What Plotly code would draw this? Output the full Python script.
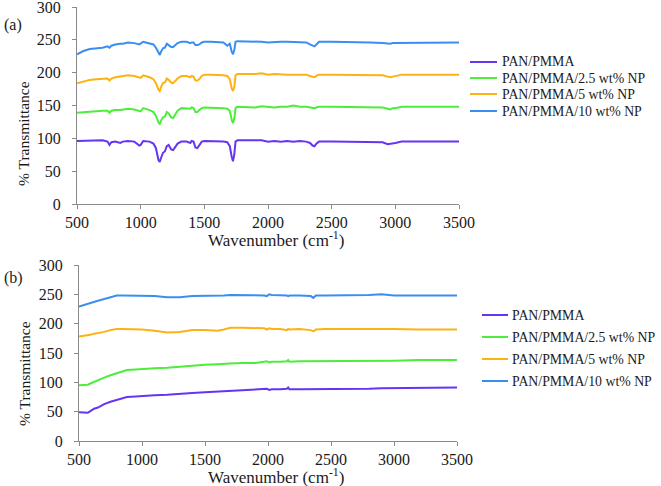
import plotly.graph_objects as go

# ---------------- Panel (a) data ----------------
wn_a = [500, 550, 600, 650, 700, 740, 755, 770, 800, 840,
        860, 900, 950, 990, 1000, 1020, 1040, 1070, 1100, 1120,
        1140, 1150, 1160, 1175, 1190, 1205, 1220, 1240, 1255, 1270,
        1290, 1320, 1360, 1390, 1400, 1415, 1430, 1445, 1460, 1480,
        1500, 1550, 1600, 1650, 1680, 1700, 1715, 1725, 1735, 1745,
        1760, 1800, 1850, 1900, 1950, 2000, 2050, 2100, 2150, 2200,
        2250, 2300, 2330, 2350, 2365, 2380, 2400, 2500, 2600, 2700,
        2800, 2900, 2940, 2960, 2980, 3000, 3050, 3100, 3200, 3300,
        3400, 3500]

a_pan_pmma = [96, 96, 97, 97, 97, 95, 90, 94, 95, 93,
              95, 96, 95, 89, 90, 96, 96, 95, 92, 85,
              67, 64, 70, 78, 80, 88, 90, 83, 82, 86,
              92, 95, 95, 93, 96, 95, 86, 85, 90, 95,
              96, 96, 96, 95, 94, 88, 72, 65, 75, 95,
              97, 97, 96, 96, 97, 95, 96, 95, 96, 95,
              96, 95, 93, 89, 88, 92, 95, 95, 95, 95,
              95, 94, 91, 92, 93, 93, 95, 95, 95, 95,
              95, 95]

a_np25 = [139, 140, 141, 142, 142, 142, 139, 142, 143, 143,
          144, 145, 144, 141, 141, 146, 145, 143, 140, 134,
          124, 122, 127, 132, 133, 140, 138, 132, 131, 135,
          142, 146, 146, 145, 147, 146, 140, 140, 143, 146,
          147, 147, 147, 146, 145, 142, 128, 123, 130, 146,
          148, 148, 148, 147, 149, 148, 147, 148, 148, 150,
          148, 148, 147, 146, 146, 147, 148, 148, 148, 148,
          148, 147, 145, 144, 146, 146, 148, 148, 148, 148,
          148, 148]

a_np5 = [184, 187, 189, 190, 191, 191, 188, 191, 193, 194,
         195, 196, 195, 192, 192, 196, 195, 193, 190, 184,
         174, 172, 178, 184, 185, 191, 189, 185, 184, 187,
         191, 195, 195, 193, 195, 194, 188, 188, 190, 195,
         197, 197, 197, 196, 195, 190, 176, 172, 178, 196,
         198, 198, 197, 198, 199, 197, 198, 197, 197, 197,
         197, 197, 195, 194, 193, 195, 197, 197, 197, 197,
         197, 196, 194, 193, 194, 195, 197, 197, 197, 197,
         197, 197]

a_np10 = [228, 233, 236, 237, 238, 240, 238, 241, 243, 244,
          244, 246, 245, 243, 244, 247, 246, 245, 243, 238,
          230, 227, 232, 237, 238, 244, 242, 239, 239, 241,
          245, 247, 247, 245, 246, 246, 242, 242, 243, 246,
          247, 247, 247, 246, 241, 244, 232, 228, 234, 247,
          248, 248, 247, 248, 247, 246, 247, 247, 247, 247,
          247, 246, 243, 241, 240, 243, 247, 247, 247, 247,
          246, 245, 244, 244, 245, 245, 246, 246, 246, 246,
          246, 246]

# ---------------- Panel (b) data ----------------
wn_b = [500, 540, 570, 590, 620, 650, 700, 750, 800, 850,
        880, 950, 1000, 1100, 1200, 1300, 1400, 1500, 1600, 1650,
        1700, 1800, 1900, 1970, 1990, 2010, 2030, 2100, 2150, 2160,
        2170, 2250, 2340, 2360, 2380, 2450, 2600, 2800, 2900, 3000,
        3200, 3500]

b_pan_pmma = [49, 49, 48, 51, 55, 57, 63, 67, 70, 73,
              75, 76, 77, 78, 79, 81, 82, 83, 84, 85,
              86, 86, 87, 88, 89, 87, 88, 88, 89, 91,
              88, 88, 88, 89, 88, 89, 89, 89, 90, 90,
              90, 91]

b_np25 = [95, 95, 96, 98, 101, 104, 108, 112, 115, 118,
          121, 122, 123, 124, 125, 127, 129, 130, 131, 132,
          132, 133, 133, 135, 136, 134, 135, 135, 136, 138,
          135, 136, 136, 136, 136, 136, 137, 137, 137, 137,
          138, 138]

b_np5 = [178, 179, 180, 181, 183, 184, 186, 189, 191, 191,
         191, 191, 190, 188, 185, 186, 189, 189, 188, 190,
         193, 193, 192, 192, 190, 192, 191, 191, 189, 191,
         190, 191, 189, 187, 190, 191, 191, 191, 192, 191,
         190, 190]

b_np10 = [229, 232, 234, 235, 237, 239, 242, 245, 248, 248,
          248, 248, 248, 247, 245, 245, 247, 247, 247, 248,
          249, 249, 249, 248, 247, 250, 249, 249, 248, 247,
          248, 248, 247, 244, 248, 248, 248, 249, 250, 248,
          248, 248]

series_names = ["PAN/PMMA", "PAN/PMMA/2.5 wt% NP", "PAN/PMMA/5 wt% NP", "PAN/PMMA/10 wt% NP"]
colors = ["#6535f2", "#4ded3c", "#fdb214", "#3a8ef2"]

x_ticks = [500, 1000, 1500, 2000, 2500, 3000, 3500]
y_ticks = [0, 50, 100, 150, 200, 250, 300]

FONT = "Times New Roman, Liberation Serif, Tinos, DejaVu Serif, serif"
TXT = "#1a1a1a"
AX = "#8a8a8a"

W, H = 661, 486
def px(x):
    return x / W
def py(y):
    return 1 - y / H

fig = go.Figure()

for name, col, ys in zip(series_names, colors, [a_pan_pmma, a_np25, a_np5, a_np10]):
    fig.add_trace(go.Scatter(x=wn_a, y=ys, mode="lines", name=name,
                             line=dict(color=col, width=2),
                             xaxis="x", yaxis="y", showlegend=False))
for name, col, ys in zip(series_names, colors, [b_pan_pmma, b_np25, b_np5, b_np10]):
    fig.add_trace(go.Scatter(x=wn_b, y=ys, mode="lines", name=name,
                             line=dict(color=col, width=2),
                             xaxis="x2", yaxis="y2", showlegend=False))

axis_common = dict(range=[500, 3500], tickvals=x_ticks, showgrid=False, zeroline=False,
                   showline=True, linecolor=AX, linewidth=1, ticks="outside",
                   ticklen=4, tickcolor=AX, automargin=False, ticklabeloverflow="allow",
                   tickfont=dict(family=FONT, size=16, color=TXT))
yaxis_common = dict(range=[0, 300], tickvals=y_ticks, showgrid=False, zeroline=False,
                    showline=True, linecolor=AX, linewidth=1, ticks="outside",
                    ticklen=4, tickcolor=AX, automargin=False, ticklabeloverflow="allow",
                    ticklabelstandoff=8,
                    tickfont=dict(family=FONT, size=16, color=TXT))

fig.update_layout(
    width=W, height=H,
    margin=dict(l=0, r=0, t=0, b=0, autoexpand=False),
    paper_bgcolor="white", plot_bgcolor="white",
    showlegend=False,
    xaxis=dict(domain=[px(77), px(459)], anchor="y", **axis_common),
    yaxis=dict(domain=[py(204), py(7)], anchor="x", **yaxis_common),
    xaxis2=dict(domain=[px(79), px(457)], anchor="y2", **axis_common),
    yaxis2=dict(domain=[py(441), py(265)], anchor="x2", **yaxis_common),
    font=dict(family=FONT, color=TXT),
)

# Legends drawn as line samples + labels (panel a: compact spacing; panel b: wider)
legend_a_rows = [62, 78, 94, 111]
legend_b_rows = [315, 337, 359, 381]
for rows, x0, x1, tx in [(legend_a_rows, 470, 497, 500), (legend_b_rows, 482, 508, 510)]:
    for name, col, yy in zip(series_names, colors, rows):
        fig.add_shape(type="line", xref="paper", yref="paper",
                      x0=px(x0), x1=px(x1), y0=py(yy), y1=py(yy),
                      line=dict(color=col, width=2))
        fig.add_annotation(xref="paper", yref="paper", x=px(tx), y=py(yy),
                           xanchor="left", yanchor="middle", showarrow=False,
                           text=name, font=dict(family=FONT, size=13.8, color=TXT))

annotations = [
    dict(text="(a)", x=px(2), y=py(25), xanchor="left", yanchor="middle", font_size=16),
    dict(text="(b)", x=px(2), y=py(278), xanchor="left", yanchor="middle", font_size=16),
    dict(text="% Transmittance", x=px(24), y=py(134), textangle=-90, xanchor="center",
         yanchor="middle", font_size=15.5),
    dict(text="% Transmittance", x=px(24), y=py(374), textangle=-90, xanchor="center",
         yanchor="middle", font_size=15.5),
    dict(text="Wavenumber (cm<sup>-1</sup>)", x=px(276), y=py(239), xanchor="center",
         yanchor="middle", font_size=17),
    dict(text="Wavenumber (cm<sup>-1</sup>)", x=px(276), y=py(476), xanchor="center",
         yanchor="middle", font_size=17),
]
for a in annotations:
    fig.add_annotation(xref="paper", yref="paper", showarrow=False,
                       font=dict(family=FONT, color=TXT, size=a.pop("font_size")), **a)

fig.write_html("out.html", config={"displayModeBar": False},
               post_script="document.body.style.margin='0';document.body.style.padding='0';")
